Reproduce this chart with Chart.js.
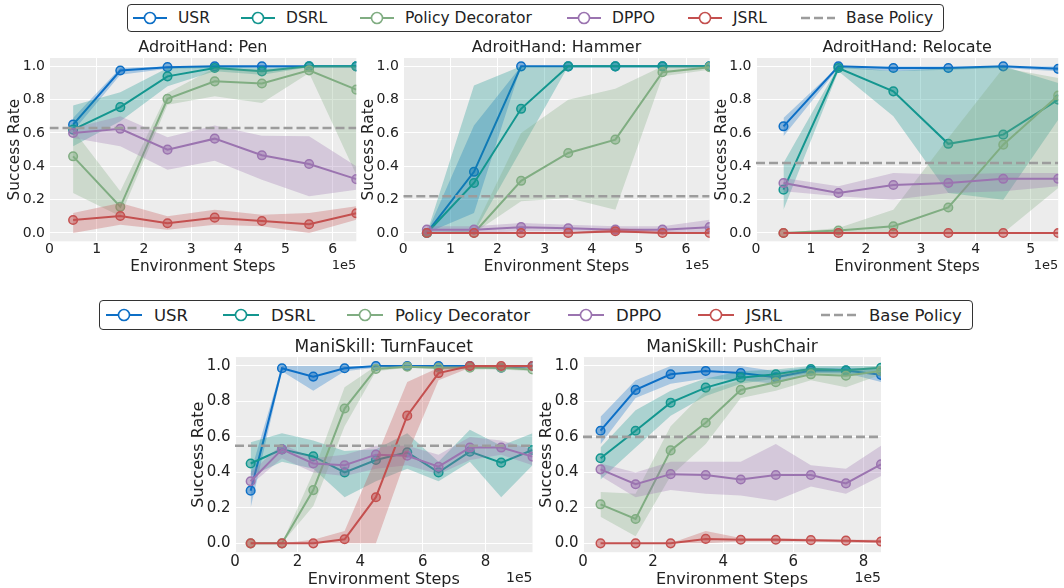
<!DOCTYPE html>
<html>
<head>
<meta charset="utf-8">
<script src="https://cdn.jsdelivr.net/npm/chart.js@4.4.1/dist/chart.umd.min.js"></script>
<style>
  html, body { margin: 0; padding: 0; background: #fff; }
  body { width: 1064px; height: 588px; overflow: hidden; position: relative; font-family: 'DejaVu Sans', sans-serif; color: #222; }
  canvas { position: absolute; left: 0; top: 0; }
  .legend { position: absolute; border: 1px solid #333; border-radius: 4px; background: #fff; box-sizing: border-box; }
  .legend svg, .legend span { position: absolute; }
  .legend span { white-space: nowrap; transform: translateY(-50%); top: 50%; }
</style>
</head>
<body>
<div class="legend" id="legTop" style="left:127px;top:4px;width:817px;height:28px"></div>
<div class="legend" id="legBottom" style="left:99px;top:300px;width:874px;height:30px"></div>
<canvas id="pen" width="1064" height="620"></canvas>
<canvas id="hammer" width="1064" height="620"></canvas>
<canvas id="relocate" width="1064" height="620"></canvas>
<canvas id="faucet" width="1064" height="620"></canvas>
<canvas id="chair" width="1064" height="620"></canvas>
<script>
// methods and colours
const methods = ['USR', 'DSRL', 'Policy Decorator', 'DPPO', 'JSRL'];
const methodColors = ['#0d6fc6', '#13968f', '#80ad82', '#9b74b0', '#c4504f'];
const baseColor = '#9c9c9c';
const yTickVals = [0, 0.2, 0.4, 0.6, 0.8, 1.0];

// x positions (1e5 env steps)
const adroitSteps = [0.5, 1.5, 2.5, 3.5, 4.5, 5.5, 6.5];
const relocateSteps = [0.5, 1.5, 2.5, 3.5, 4.5, 5.5];
const faucetSteps = [0.5, 1.5, 2.5, 3.5, 4.5, 5.5, 6.5, 7.5, 8.5, 9.5];
const chairSteps = [0.5, 1.5, 2.5, 3.5, 4.5, 5.5, 6.5, 7.5, 8.5];
const adroitXTicks = [0, 1, 2, 3, 4, 5, 6];
const relocateXTicks = [0, 1, 2, 3, 4, 5];
const maniXTicks = [0, 2, 4, 6, 8];

// AdroitHand: Pen
const penUSR = [0.65, 0.975, 0.995, 1.0, 1.0, 1.0, 1.0];
const penUSRLo = [0.61, 0.95, 0.985, 0.99, 0.99, 0.995, 0.995];
const penUSRHi = [0.69, 0.99, 1.0, 1.0, 1.0, 1.0, 1.0];
const penDSRL = [0.62, 0.755, 0.94, 0.99, 0.97, 1.0, 1.0];
const penDSRLLo = [0.52, 0.67, 0.88, 0.97, 0.95, 0.995, 0.995];
const penDSRLHi = [0.765, 0.845, 0.99, 1.0, 0.99, 1.0, 1.0];
const penPD = [0.46, 0.157, 0.805, 0.91, 0.897, 0.976, 0.86];
const penPDLo = [0.24, 0.10, 0.77, 0.82, 0.78, 0.96, 0.35];
const penPDHi = [0.62, 0.25, 0.84, 0.99, 0.98, 1.0, 1.0];
const penDPPO = [0.60, 0.625, 0.50, 0.566, 0.466, 0.414, 0.323];
const penDPPOLo = [0.57, 0.52, 0.38, 0.434, 0.32, 0.22, 0.26];
const penDPPOHi = [0.63, 0.70, 0.574, 0.645, 0.584, 0.58, 0.40];
const penJSRL = [0.078, 0.102, 0.058, 0.092, 0.072, 0.052, 0.118];
const penJSRLLo = [0.0, 0.05, 0.02, 0.05, 0.04, 0.0, 0.08];
const penJSRLHi = [0.12, 0.18, 0.10, 0.14, 0.11, 0.12, 0.16];
const penBase = 0.63;

// AdroitHand: Hammer
const hamUSR = [0.0, 0.367, 1.0, 1.0, 1.0, 1.0, 1.0];
const hamUSRLo = [0.0, 0.12, 1.0, 1.0, 1.0, 1.0, 1.0];
const hamUSRHi = [0.0, 0.645, 1.0, 1.0, 1.0, 1.0, 1.0];
const hamDSRL = [0.0, 0.30, 0.745, 1.0, 1.0, 1.0, 1.0];
const hamDSRLLo = [0.0, 0.0, 0.5, 1.0, 1.0, 1.0, 1.0];
const hamDSRLHi = [0.0, 0.885, 1.0, 1.0, 1.0, 1.0, 1.0];
const hamPD = [0.0, 0.0, 0.313, 0.48, 0.56, 0.965, 0.995];
const hamPDLo = [0.0, 0.0, 0.19, 0.21, 0.14, 0.94, 0.98];
const hamPDHi = [0.0, 0.02, 0.60, 0.80, 0.865, 1.0, 1.0];
const hamDPPO = [0.02, 0.02, 0.035, 0.028, 0.02, 0.02, 0.035];
const hamDPPOLo = [0.0, 0.0, 0.01, 0.01, 0.0, 0.0, 0.0];
const hamDPPOHi = [0.04, 0.04, 0.06, 0.05, 0.04, 0.04, 0.08];
const hamJSRL = [0.0, 0.0, 0.0, 0.0, 0.01, 0.0, 0.0];
const hamJSRLLo = [0.0, 0.0, 0.0, 0.0, 0.0, 0.0, 0.0];
const hamJSRLHi = [0.0, 0.0, 0.0, 0.0, 0.03, 0.01, 0.0];
const hamBase = 0.22;

// AdroitHand: Relocate
const relUSR = [0.64, 1.0, 0.99, 0.99, 1.0, 0.985];
const relUSRLo = [0.58, 0.99, 0.97, 0.98, 0.99, 0.97];
const relUSRHi = [0.69, 1.0, 1.0, 1.0, 1.0, 1.0];
const relDSRL = [0.26, 0.99, 0.85, 0.535, 0.59, 0.80];
const relDSRLLo = [0.14, 0.97, 0.70, 0.24, 0.20, 0.68];
const relDSRLHi = [0.42, 1.0, 0.97, 0.99, 1.0, 0.90];
const relPD = [0.0, 0.015, 0.04, 0.153, 0.53, 0.825];
const relPDLo = [0.0, 0.0, 0.0, 0.0, 0.0, 0.27];
const relPDHi = [0.0, 0.03, 0.14, 0.57, 0.99, 0.93];
const relDPPO = [0.30, 0.24, 0.288, 0.30, 0.325, 0.325];
const relDPPOLo = [0.25, 0.22, 0.20, 0.24, 0.25, 0.28];
const relDPPOHi = [0.33, 0.28, 0.36, 0.35, 0.36, 0.36];
const relJSRL = [0.0, 0.0, 0.0, 0.0, 0.0, 0.0];
const relJSRLLo = [0.0, 0.0, 0.0, 0.0, 0.0, 0.0];
const relJSRLHi = [0.0, 0.0, 0.0, 0.0, 0.0, 0.0];
const relBase = 0.42;

// ManiSkill: TurnFaucet
const tfUSR = [0.297, 0.987, 0.94, 0.987, 1.0, 1.0, 1.0, 1.0, 0.99, 1.0];
const tfUSRLo = [0.20, 0.97, 0.86, 0.97, 0.99, 0.99, 0.99, 0.99, 0.98, 0.99];
const tfUSRHi = [0.40, 1.0, 1.0, 1.0, 1.0, 1.0, 1.0, 1.0, 1.0, 1.0];
const tfDSRL = [0.45, 0.53, 0.49, 0.40, 0.47, 0.513, 0.40, 0.517, 0.455, 0.526];
const tfDSRLLo = [0.38, 0.46, 0.42, 0.26, 0.35, 0.42, 0.35, 0.46, 0.26, 0.44];
const tfDSRLHi = [0.57, 0.62, 0.58, 0.52, 0.53, 0.62, 0.46, 0.64, 0.55, 0.62];
const tfPD = [0.0, 0.0, 0.30, 0.76, 0.983, 0.996, 0.99, 0.99, 0.99, 0.98];
const tfPDLo = [0.0, 0.0, 0.21, 0.66, 0.97, 0.99, 0.98, 0.98, 0.98, 0.97];
const tfPDHi = [0.0, 0.0, 0.40, 0.88, 1.0, 1.0, 1.0, 1.0, 1.0, 0.99];
const tfDPPO = [0.35, 0.53, 0.45, 0.44, 0.50, 0.494, 0.432, 0.54, 0.54, 0.489];
const tfDPPOLo = [0.33, 0.48, 0.40, 0.38, 0.42, 0.44, 0.39, 0.47, 0.50, 0.44];
const tfDPPOHi = [0.40, 0.56, 0.48, 0.50, 0.55, 0.55, 0.50, 0.60, 0.58, 0.53];
const tfJSRL = [0.0, 0.0, 0.0, 0.023, 0.26, 0.72, 0.96, 1.0, 1.0, 1.0];
const tfJSRLLo = [0.0, 0.0, 0.0, 0.0, 0.0, 0.50, 0.92, 0.99, 0.99, 0.99];
const tfJSRLHi = [0.0, 0.0, 0.02, 0.07, 0.48, 0.91, 0.99, 1.0, 1.0, 1.0];
const tfBase = 0.55;

// ManiSkill: PushChair
const pcUSR = [0.635, 0.865, 0.953, 0.972, 0.96, 0.936, 0.974, 0.974, 0.95];
const pcUSRLo = [0.558, 0.82, 0.90, 0.93, 0.92, 0.90, 0.96, 0.96, 0.91];
const pcUSRHi = [0.714, 0.92, 1.0, 1.0, 1.0, 0.97, 0.99, 0.99, 0.98];
const pcDSRL = [0.48, 0.635, 0.793, 0.878, 0.934, 0.953, 0.983, 0.976, 0.99];
const pcDSRLLo = [0.36, 0.54, 0.72, 0.83, 0.90, 0.93, 0.96, 0.95, 0.97];
const pcDSRLHi = [0.54, 0.75, 0.86, 0.93, 0.97, 0.98, 1.0, 1.0, 1.0];
const pcPD = [0.22, 0.137, 0.524, 0.68, 0.865, 0.908, 0.953, 0.945, 0.972];
const pcPDLo = [0.15, 0.04, 0.38, 0.56, 0.82, 0.86, 0.92, 0.88, 0.95];
const pcPDHi = [0.29, 0.28, 0.66, 0.86, 0.92, 0.95, 0.99, 0.98, 1.0];
const pcDPPO = [0.417, 0.333, 0.39, 0.385, 0.36, 0.385, 0.385, 0.338, 0.445];
const pcDPPOLo = [0.38, 0.26, 0.30, 0.28, 0.27, 0.24, 0.32, 0.28, 0.38];
const pcDPPOHi = [0.45, 0.40, 0.46, 0.46, 0.46, 0.56, 0.44, 0.42, 0.55];
const pcJSRL = [0.0, 0.0, 0.0, 0.025, 0.02, 0.02, 0.018, 0.015, 0.01];
const pcJSRLLo = [0.0, 0.0, 0.0, 0.0, 0.01, 0.01, 0.01, 0.005, 0.0];
const pcJSRLHi = [0.0, 0.0, 0.0, 0.07, 0.03, 0.03, 0.025, 0.02, 0.02];
const pcBase = 0.60;

Chart.defaults.font.family = "'DejaVu Sans', sans-serif";
Chart.defaults.color = '#222';

function rgba(hex, a) {
  const n = parseInt(hex.slice(1), 16);
  return `rgba(${(n >> 16) & 255},${(n >> 8) & 255},${n & 255},${a})`;
}
function pts(xs, ys) {
  return xs.map((x, i) => ({x: x, y: ys[i]}));
}

// grey panel, subplot title and the 1e5 offset text
const panelPlugin = {
  id: 'panel',
  beforeDraw(chart, args, o) {
    const a = chart.chartArea, ctx = chart.ctx;
    ctx.save();
    ctx.fillStyle = '#ececec';
    ctx.fillRect(a.left, a.top, a.right - a.left, a.bottom - a.top);
    ctx.restore();
  },
  afterDraw(chart, args, o) {
    const a = chart.chartArea, ctx = chart.ctx;
    ctx.save();
    ctx.fillStyle = '#222';
    ctx.textBaseline = 'middle';
    ctx.textAlign = 'center';
    ctx.font = o.titleSize + "px 'DejaVu Sans'";
    ctx.fillText(o.title, (a.left + a.right) / 2, a.top - 10);
    ctx.textAlign = 'right';
    ctx.font = o.expSize + "px 'DejaVu Sans'";
    ctx.fillText('1e5', a.right, a.bottom + o.expOffset);
    ctx.restore();
  }
};

function makeChart(id, p) {
  const datasets = [];
  p.series.forEach((s, i) => {
    const col = methodColors[i];
    const rank = (methods.length - i) * 10;
    datasets.push({
      data: pts(p.steps, s[1]), borderWidth: 0, borderColor: 'rgba(0,0,0,0)',
      pointRadius: 0, fill: false, order: rank + 3, clip: 0
    });
    datasets.push({
      data: pts(p.steps, s[2]), borderWidth: 0, borderColor: 'rgba(0,0,0,0)',
      pointRadius: 0, fill: '-1', backgroundColor: rgba(col, 0.3), order: rank + 2, clip: 0
    });
    datasets.push({
      label: methods[i], data: pts(p.steps, s[0]), borderColor: col, borderWidth: 2,
      pointRadius: 4.3, pointBorderWidth: 1.5, pointBorderColor: col,
      pointBackgroundColor: rgba(col, 0.5), fill: false, order: rank + 1, clip: 0
    });
  });
  datasets.push({
    label: 'Base Policy', data: [{x: 0, y: p.base}, {x: p.xMax, y: p.base}],
    borderColor: baseColor, borderWidth: 2.6, borderDash: [9, 4], pointRadius: 0,
    fill: false, order: 0, clip: 0
  });

  const big = p.row === 2;
  const tickSize = big ? 15 : 14;
  const axisTitleSize = big ? 16 : 15.3;
  return new Chart(document.getElementById(id), {
    type: 'line',
    data: {datasets: datasets},
    plugins: [panelPlugin],
    options: {
      responsive: false,
      animation: false,
      devicePixelRatio: 1,
      events: [],
      layout: {
        padding: {left: p.area[0] - 48, right: 1064 - p.area[1], top: p.area[2], bottom: 620 - p.area[3] - 40}
      },
      elements: {line: {tension: 0}},
      scales: {
        x: {
          type: 'linear', min: 0, max: p.xMax,
          afterBuildTicks: s => { s.ticks = p.xTicks.map(v => ({value: v})); },
          afterFit: s => { s.height = 40; },
          grid: {color: '#ffffff', lineWidth: 1, drawTicks: false},
          border: {display: false},
          ticks: {padding: big ? 0.5 : 0, color: '#222', font: {size: tickSize}, callback: v => String(v)},
          title: {display: true, text: 'Environment Steps', color: '#222', font: {size: axisTitleSize},
                  padding: {top: 0, bottom: big ? 2.6 : 5.4}}
        },
        y: {
          min: -0.05, max: 1.05,
          afterBuildTicks: s => { s.ticks = yTickVals.map(v => ({value: v})); },
          afterFit: s => { s.width = 48; },
          grid: {color: '#ffffff', lineWidth: 1, drawTicks: false},
          border: {display: false},
          ticks: {padding: 4.5, color: '#222', font: {size: tickSize}, callback: v => v.toFixed(1)},
          title: {display: true, text: 'Success Rate', color: '#222', font: {size: axisTitleSize},
                  padding: {top: big ? 2.4 : 4.8, bottom: 0}}
        }
      },
      plugins: {
        legend: {display: false},
        tooltip: {enabled: false},
        filler: {drawTime: 'beforeDatasetDraw'},
        panel: {title: p.title, titleSize: big ? 17 : 16, expSize: big ? 14 : 13, expOffset: big ? 26 : 24}
      }
    }
  });
}

makeChart('pen', {
  title: 'AdroitHand: Pen', row: 1, steps: adroitSteps, xMax: 6.5, xTicks: adroitXTicks,
  area: [49.5, 356.3, 58, 241.3], base: penBase,
  series: [[penUSR, penUSRLo, penUSRHi], [penDSRL, penDSRLLo, penDSRLHi], [penPD, penPDLo, penPDHi],
           [penDPPO, penDPPOLo, penDPPOHi], [penJSRL, penJSRLLo, penJSRLHi]]
});
makeChart('hammer', {
  title: 'AdroitHand: Hammer', row: 1, steps: adroitSteps, xMax: 6.5, xTicks: adroitXTicks,
  area: [403.3, 709.6, 58, 241.3], base: hamBase,
  series: [[hamUSR, hamUSRLo, hamUSRHi], [hamDSRL, hamDSRLLo, hamDSRLHi], [hamPD, hamPDLo, hamPDHi],
           [hamDPPO, hamDPPOLo, hamDPPOHi], [hamJSRL, hamJSRLLo, hamJSRLHi]]
});
makeChart('relocate', {
  title: 'AdroitHand: Relocate', row: 1, steps: relocateSteps, xMax: 5.5, xTicks: relocateXTicks,
  area: [756, 1063, 58, 241.3], base: relBase,
  series: [[relUSR, relUSRLo, relUSRHi], [relDSRL, relDSRLLo, relDSRLHi], [relPD, relPDLo, relPDHi],
           [relDPPO, relDPPOLo, relDPPOHi], [relJSRL, relJSRLLo, relJSRLHi]]
});
makeChart('faucet', {
  title: 'ManiSkill: TurnFaucet', row: 2, steps: faucetSteps, xMax: 9.5, xTicks: maniXTicks,
  area: [235, 532.5, 357.1, 552.2], base: tfBase,
  series: [[tfUSR, tfUSRLo, tfUSRHi], [tfDSRL, tfDSRLLo, tfDSRLHi], [tfPD, tfPDLo, tfPDHi],
           [tfDPPO, tfDPPOLo, tfDPPOHi], [tfJSRL, tfJSRLLo, tfJSRLHi]]
});
makeChart('chair', {
  title: 'ManiSkill: PushChair', row: 2, steps: chairSteps, xMax: 8.5, xTicks: maniXTicks,
  area: [583, 881, 357.1, 552.2], base: pcBase,
  series: [[pcUSR, pcUSRLo, pcUSRHi], [pcDSRL, pcDSRLLo, pcDSRLHi], [pcPD, pcPDLo, pcPDHi],
           [pcDPPO, pcDPPOLo, pcDPPOHi], [pcJSRL, pcJSRLLo, pcJSRLHi]]
});

// legends (HTML), handle x positions relative to each box
function buildLegend(id, starts, len, gap, size) {
  const box = document.getElementById(id);
  const names = methods.concat(['Base Policy']);
  let html = '';
  names.forEach((name, i) => {
    const x = starts[i];
    const isBase = i === methods.length;
    const col = isBase ? baseColor : methodColors[i];
    html += `<svg width="${len}" height="16" style="left:${x}px;top:50%;margin-top:-8px">` +
      (isBase
        ? `<line x1="0" y1="8" x2="${len}" y2="8" stroke="${col}" stroke-width="2.6" stroke-dasharray="9,4"/>`
        : `<line x1="0" y1="8" x2="${len}" y2="8" stroke="${col}" stroke-width="2"/>` +
          `<circle cx="${len / 2}" cy="8" r="5.5" fill="#fff" stroke="${col}" stroke-width="1.6"/>`) +
      `</svg><span style="left:${x + gap}px;font-size:${size}px">${name}</span>`;
  });
  box.innerHTML = html;
}
buildLegend('legTop', [5, 113, 232, 439, 560, 673], 34, 45, 15.5);
buildLegend('legBottom', [6, 123, 247, 468, 598, 721], 36, 48, 16.5);
</script>
</body>
</html>
